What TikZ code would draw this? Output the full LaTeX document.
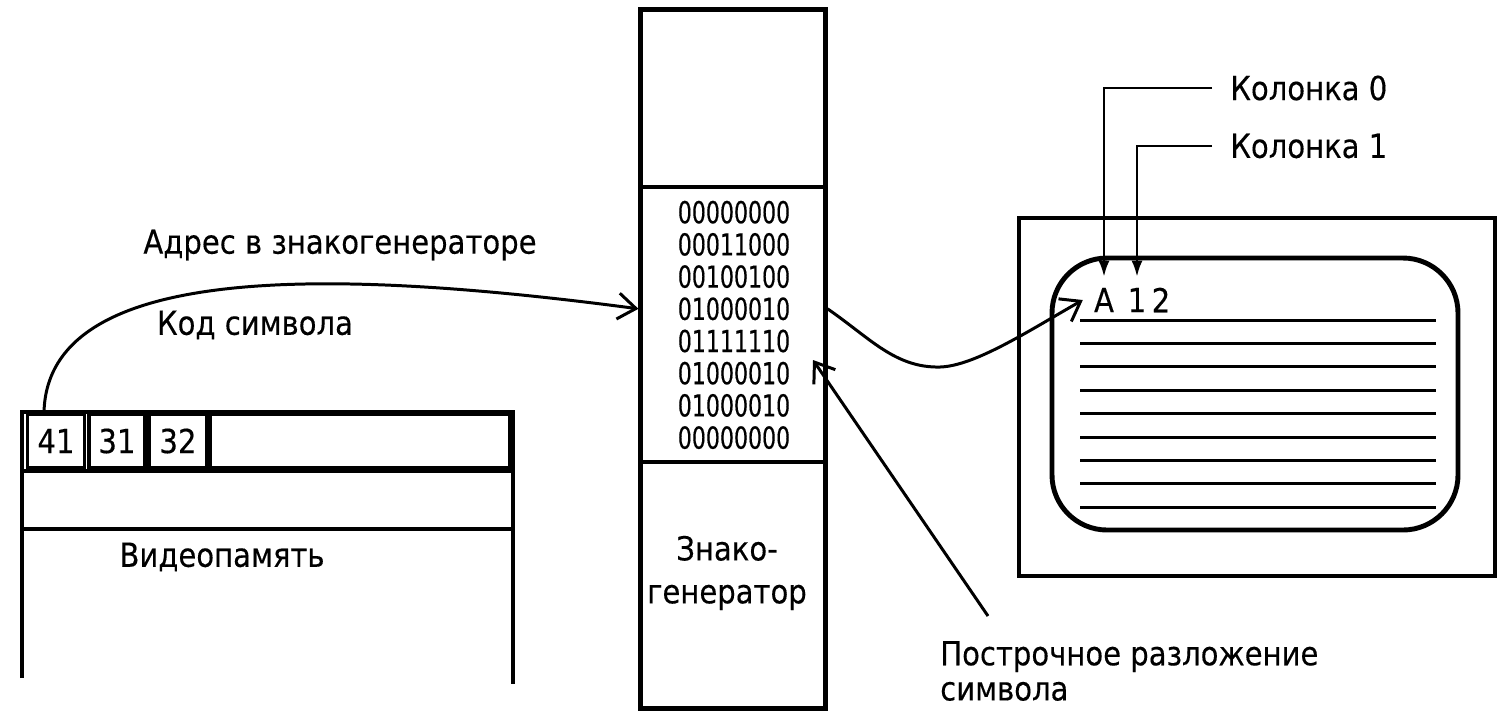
\documentclass[tikz,border=0pt]{standalone}
\usepackage{fontspec}
\setmainfont{DejaVu Sans}[FakeStretch=0.88, FakeBold=0.3]
\newfontfamily\bitfont{DejaVu Sans}[FakeStretch=0.73, FakeBold=0.4]
\usetikzlibrary{arrows.meta}

\tikzset{
  box/.style={line width=1.4pt},
  divider/.style={line width=0.9pt},
  scanline/.style={line width=0.85pt},
  link/.style={line width=0.85pt, -{Straight Barb[length=1.8mm,width=2.6mm,line width=0.85pt]}},
  colarrow/.style={line width=0.7pt, -{Latex[length=1.6mm,width=1.1mm]}},
  txt/.style={font=\fontsize{9.4}{10}\selectfont, inner sep=3pt},
  bitrow/.style={font=\bitfont\fontsize{8.6}{9}\selectfont, inner sep=1pt},
  cell/.style={draw, line width=0.9pt, inner sep=0pt, minimum height=0.53cm,
    font=\fontsize{9.4}{10}\selectfont},
}

\begin{document}
\begin{tikzpicture}[x=0.01cm, y=-0.01cm]
    \useasboundingbox (0,0) rectangle (1509,717);
    % Video memory
    \draw[box] (22,678) -- (22,412) -- (513,412) -- (513,684);
    \draw[box] (22,471) -- (513,471);
    \draw[box] (22,529) -- (513,529);
    \node[cell, minimum width=0.57cm] (c41) at (56,441) {41};
    \node[cell, minimum width=0.56cm] (c31) at (117,441) {31};
    \node[cell, minimum width=0.58cm] (c32) at (178,441) {32};
    \node[cell, minimum width=2.98cm] (cfree) at (360,441) {};
    \node[txt] (vmem) at (222,557) {Видеопамять};
    \node[txt] (addr) at (340,245) {Адрес в знакогенераторе};
    \node[txt] (code) at (255,325) {Код символа};
    % Character generator
    \node[box, draw, minimum width=1.84cm, minimum height=6.98cm, inner sep=0pt]
    (gen) at (733,359) {};
    \draw[divider] (641,187) -- (825,187);
    \draw[divider] (641,462) -- (825,462);
    \foreach \bits [count=\i] in {00000000,00011000,00100100,01000010,
      01111110,01000010,01000010,00000000}
      \node[bitrow] (bit\i) at (734,{180+32.2*\i}) {\bits};
    \node[txt, align=center] (genname) at (727,573) {Знако-\\[2.2pt]генератор};
    % Screen
    \draw[box] (1019,218) rectangle (1495,576);
    \draw[box, rounded corners=0.55cm] (1052,258) rectangle (1458,530);
    \foreach \k in {0,...,8}
      \draw[scanline] (1080,{320+23.4*\k}) -- (1436,{320+23.4*\k});
    \node[txt] (chA) at (1104,300) {A};
    \node[txt] (ch1) at (1137,300) {1};
    \node[txt] (ch2) at (1161,300) {2};
    \node[txt, anchor=west, inner xsep=5pt] (col0) at (1212,88) {Колонка 0};
    \node[txt, anchor=west, inner xsep=5pt] (col1) at (1212,146) {Колонка 1};
    \draw[colarrow] (col0.west) -| (chA.north);
    \draw[colarrow] (col1.west) -| (ch1.north);
    % connectors
    \coordinate (codesrc) at (44,412);
    \draw[link] (codesrc) .. controls (48,262) and (330,268) .. (gen.west |- bit4);
    \draw[link] (gen.east |- bit4) .. controls (870,338) and (895,368) .. (940,367)
    .. controls (975,366) and (1030,330) .. (chA.west);
    \node[txt, anchor=west, align=left] (rows) at (929,671)
    {Построчное разложение\\символа};
    \coordinate (rowsfrom) at (988,616);
    \coordinate (rowsto) at (813,360);
    \draw[link] (rowsfrom) -- (rowsto);
\end{tikzpicture}
\end{document}
